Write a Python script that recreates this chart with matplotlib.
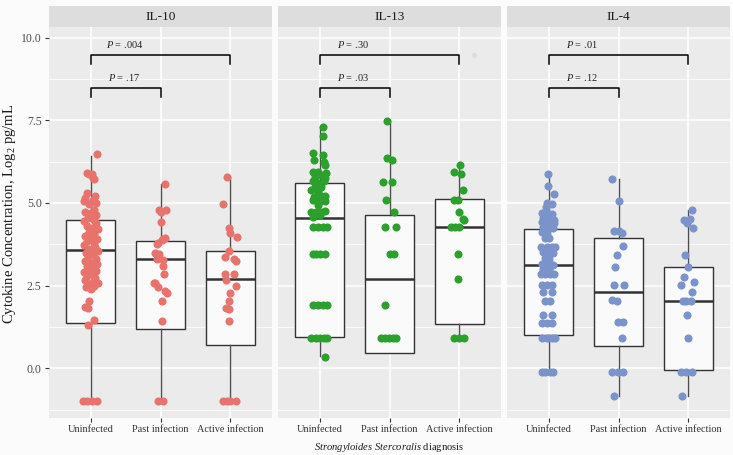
import matplotlib
matplotlib.use("Agg")
from matplotlib import pyplot as plt

# Fonts: serif text, mathtext in the same family for the subscripts / italics
plt.rcParams['font.family'] = ['Liberation Serif', 'DejaVu Serif']
plt.rcParams['mathtext.fontset'] = 'custom'
plt.rcParams['mathtext.rm'] = 'Liberation Serif'
plt.rcParams['mathtext.it'] = 'Liberation Serif:italic'

# ---- data ----
cytokines = ['IL-10', 'IL-13', 'IL-4']
groups = ['Uninfected', 'Past infection', 'Active infection']
colors = ['#E8736C', '#2CA02C', '#7B93CB']

# box statistics (Log2 pg/mL), one value per group
il10_q1 = [1.38, 1.19, 0.72]
il10_med = [3.58, 3.30, 2.69]
il10_q3 = [4.48, 3.86, 3.55]
il10_lo = [-1.0, -1.0, -1.0]
il10_hi = [6.43, 5.57, 5.78]

il13_q1 = [0.96, 0.45, 1.33]
il13_med = [4.55, 2.69, 4.26]
il13_q3 = [5.59, 4.63, 5.11]
il13_lo = [0.37, 0.45, 0.93]
il13_hi = [7.30, 7.45, 6.15]

il4_q1 = [1.01, 0.68, -0.05]
il4_med = [3.14, 2.30, 2.03]
il4_q3 = [4.20, 3.93, 3.05]
il4_lo = [-0.10, -0.84, -0.84]
il4_hi = [5.90, 5.71, 4.79]

# individual samples as (jitter, value)
il10_uninfected = [(0.09, 6.47), (-0.05, 5.9), (-0.02, 5.87), (0.02, 5.88), (0.05, 5.74), (0.03, 5.75),
                   (-0.05, 5.29), (0.06, 5.2), (-0.08, 5.15), (0.03, 5.1), (-0.1, 5.05), (0.08, 5.0), (-0.02, 4.98),
                   (0.05, 4.8), (-0.08, 4.72), (0.0, 4.69), (0.08, 4.65), (-0.04, 4.55), (0.04, 4.5), (-0.1, 4.45),
                   (0.07, 4.4), (-0.06, 4.3), (0.02, 4.25), (0.1, 4.2), (-0.03, 4.12), (0.05, 4.05), (-0.08, 4.0),
                   (0.0, 3.95), (0.09, 3.9), (-0.05, 3.85), (0.04, 3.8), (-0.1, 3.72), (0.06, 3.68), (-0.02, 3.6),
                   (0.1, 3.55), (-0.07, 3.5), (0.03, 3.45), (-0.04, 3.38), (0.07, 3.32), (-0.09, 3.25), (0.01, 3.2),
                   (0.09, 3.15), (-0.06, 3.1), (0.04, 3.05), (-0.02, 3.0), (0.08, 2.95), (-0.1, 2.9), (0.0, 2.85),
                   (-0.05, 2.78), (0.06, 2.72), (-0.08, 2.68), (0.03, 2.62), (0.1, 2.58), (-0.03, 2.55), (0.05, 2.5),
                   (-0.07, 2.45), (0.0, 2.4), (-0.02, 2.05), (-0.09, 1.85), (-0.04, 1.82), (0.05, 1.45), (-0.04, 1.3),
                   (-0.11, -1), (-0.05, -1), (0.01, -1), (0.09, -1)]
il10_past = [(0.06, 5.57), (0.08, 4.8), (-0.02, 4.78), (0.0, 4.73), (0.0, 4.43), (0.07, 3.95), (0.04, 3.9),
             (0.02, 3.88), (-0.03, 3.8), (-0.05, 3.75), (-0.08, 3.48), (-0.02, 3.45), (-0.05, 3.3), (0.04, 3.27),
             (0.03, 3.1), (0.05, 2.84), (-0.08, 2.59), (-0.09, 2.57), (-0.03, 2.47), (0.07, 2.34), (0.1, 2.27),
             (0.02, 2.03), (0.02, 1.44), (-0.03, -1), (0.03, -1)]
il10_active = [(-0.04, 5.78), (-0.1, 4.98), (-0.01, 4.23), (0.0, 4.08), (0.1, 3.96), (-0.01, 3.55), (-0.08, 3.38),
               (0.05, 3.3), (0.09, 3.25), (-0.08, 2.85), (0.05, 2.84), (-0.06, 2.67), (0.09, 2.5), (0.0, 2.27),
               (-0.01, 2.03), (-0.06, 1.84), (-0.02, 1.8), (-0.02, 1.44), (-0.1, -1), (-0.05, -1), (0.0, -1),
               (0.09, -1)]

il13_uninfected = [(0.05, 7.30), (0.04, 7.03), (-0.1, 6.5), (0.05, 6.45), (-0.08, 6.3), (0.06, 6.24), (0.07, 6.15),
                   (-0.1, 5.94), (-0.03, 5.94), (0.09, 5.92), (-0.07, 5.8), (0.02, 5.85), (0.07, 5.75),
                   (-0.1, 5.65), (-0.03, 5.6), (0.06, 5.65), (-0.07, 5.49), (0.02, 5.49), (-0.12, 5.4), (-0.02, 5.34),
                   (-0.08, 5.19), (0.02, 5.22), (0.08, 5.22), (-0.1, 5.09), (0.0, 5.06), (0.07, 5.06), (-0.02, 4.93),
                   (-0.12, 4.73), (-0.05, 4.73), (0.02, 4.73), (0.07, 4.75), (-0.1, 4.58), (0.0, 4.63),
                   (-0.1, 4.26), (-0.02, 4.26), (0.05, 4.26), (0.1, 4.26),
                   (-0.1, 3.47), (-0.05, 3.47), (0.0, 3.47), (0.07, 3.47),
                   (-0.1, 1.93), (-0.02, 1.93), (0.05, 1.93), (0.1, 1.93),
                   (-0.12, 0.93), (-0.06, 0.93), (0.0, 0.93), (0.06, 0.93), (0.1, 0.93),
                   (0.08, 0.35)]
il13_past = [(-0.04, 7.48), (-0.04, 6.36), (0.03, 6.29), (-0.09, 5.64), (0.04, 5.64), (-0.05, 5.09), (0.07, 4.73),
             (-0.06, 4.26), (0.1, 4.26), (0.0, 3.47), (0.07, 3.47), (-0.07, 1.93), (-0.12, 0.93), (-0.07, 0.93),
             (-0.01, 0.93), (0.05, 0.93), (0.1, 0.93)]
il13_active = [(0.01, 6.15), (-0.08, 5.94), (0.02, 5.87), (0.06, 5.4), (-0.07, 5.09), (-0.01, 5.09), (0.0, 4.73),
               (0.05, 4.53), (0.07, 4.5), (-0.12, 4.26), (-0.06, 4.26), (0.0, 4.26), (-0.01, 3.47), (-0.01, 2.69),
               (-0.07, 0.93), (0.0, 0.93), (0.07, 0.93)]

il4_uninfected = [(-0.01, 5.89), (-0.01, 5.51), (0.08, 5.27), (-0.02, 5.0), (0.04, 4.98), (-0.04, 4.89),
                  (-0.1, 4.69), (-0.03, 4.69), (0.04, 4.66), (-0.09, 4.54), (-0.01, 4.54), (0.07, 4.5),
                  (-0.1, 4.43), (-0.03, 4.38), (0.04, 4.4), (0.08, 4.38), (-0.08, 4.28), (0.0, 4.23), (0.06, 4.23),
                  (-0.1, 4.13), (-0.03, 4.08), (-0.05, 3.93), (0.0, 3.93),
                  (-0.11, 3.66), (-0.03, 3.66), (0.04, 3.66), (0.09, 3.66), (-0.08, 3.53), (0.0, 3.5), (0.06, 3.5),
                  (-0.06, 3.35), (0.0, 3.32), (-0.1, 3.15), (-0.03, 3.13), (0.06, 3.13), (-0.08, 3.0), (0.0, 2.98),
                  (-0.11, 2.84), (-0.05, 2.84), (0.02, 2.84), (0.08, 2.84),
                  (-0.1, 2.52), (-0.02, 2.52), (0.04, 2.52), (-0.09, 2.3), (0.05, 2.3),
                  (-0.05, 2.03), (0.02, 2.03), (-0.08, 1.61), (0.05, 1.61), (-0.1, 1.38), (-0.03, 1.38), (0.04, 1.38),
                  (-0.1, 0.91), (-0.03, 0.91), (0.04, 0.91), (0.09, 0.91),
                  (-0.1, -0.1), (-0.05, -0.1), (0.01, -0.1), (0.06, -0.1)]
il4_past = [(-0.1, 5.72), (0.0, 5.07), (-0.06, 4.16), (0.0, 4.16), (0.05, 4.1), (0.06, 3.7), (-0.02, 3.42),
            (-0.05, 3.05), (-0.07, 2.52), (0.08, 2.52), (-0.09, 2.08), (-0.02, 2.04), (-0.01, 1.39), (0.06, 1.39),
            (0.05, 0.91), (-0.09, -0.1), (-0.01, -0.1), (0.06, -0.1), (-0.07, -0.84)]
il4_active = [(0.05, 4.79), (-0.06, 4.5), (0.03, 4.53), (-0.02, 4.38), (0.07, 4.23), (-0.04, 3.42), (0.0, 3.05),
              (-0.06, 2.77), (0.08, 2.62), (-0.1, 2.52), (0.05, 2.32), (-0.08, 2.03), (-0.03, 2.03), (0.04, 2.03),
              (-0.02, 1.61), (0.0, 0.91), (-0.1, -0.1), (-0.03, -0.1), (0.06, -0.1), (-0.09, -0.84)]

# p-values: (Uninfected vs Past, Uninfected vs Active)
p_past = ['.17', '.03', '.12']
p_active = ['.004', '.30', '.01']

boxes = [
    (il10_q1, il10_med, il10_q3, il10_lo, il10_hi),
    (il13_q1, il13_med, il13_q3, il13_lo, il13_hi),
    (il4_q1, il4_med, il4_q3, il4_lo, il4_hi),
]
points = [
    [il10_uninfected, il10_past, il10_active],
    [il13_uninfected, il13_past, il13_active],
    [il4_uninfected, il4_past, il4_active],
]

# ---- figure ----
W, H = 733, 455
fig = plt.figure(figsize=(W / 100, H / 100), dpi=100, facecolor='#FBFBFB')

panel_left = [49, 278, 507]
panel_w = 223
panel_top, panel_bot = 27, 418
strip_top = 6

for i, name in enumerate(cytokines):
    l = panel_left[i] / W
    ax = fig.add_axes([l, 1 - panel_bot / H, panel_w / W, (panel_bot - panel_top) / H])
    ax.set_facecolor('#EBEBEB')

    q1, med, q3, lo, hi = boxes[i]
    stats = []
    for k in range(3):
        stats.append({'q1': q1[k], 'med': med[k], 'q3': q3[k],
                      'whislo': lo[k], 'whishi': hi[k], 'fliers': []})
    ax.bxp(stats, positions=[1, 2, 3], widths=0.7, patch_artist=True,
           showcaps=False, showfliers=False, manage_ticks=False,
           boxprops=dict(facecolor='#FAFAFA', edgecolor='#333333', lw=1.0),
           medianprops=dict(color='#333333', lw=1.8),
           whiskerprops=dict(color='#4D4D4D', lw=1.0), zorder=2)

    for k in range(3):
        xs = [k + 1 + p[0] for p in points[i][k]]
        ys = [p[1] for p in points[i][k]]
        ax.scatter(xs, ys, s=34, color=colors[i], linewidths=0, zorder=3)

    # significance brackets
    ax.plot([1, 1, 3, 3], [9.2, 9.48, 9.48, 9.2], color='black', lw=1.1, zorder=4)
    ax.plot([1, 1, 2, 2], [8.19, 8.48, 8.48, 8.19], color='black', lw=1.1, zorder=4)
    ax.text(1.48, 9.8, r'$\it{P}$ = ' + p_active[i], ha='center', va='center', fontsize=7.5, color='#222222')
    ax.text(1.48, 8.8, r'$\it{P}$ = ' + p_past[i], ha='center', va='center', fontsize=7.5, color='#222222')

    if i == 1:
        ax.scatter([3.21], [9.48], s=14, color='#DCDCDC', linewidths=0, zorder=3)

    ax.set_xlim(0.4, 3.6)
    ax.set_ylim(-1.5, 10.32)
    ax.set_yticks([0, 2.5, 5, 7.5, 10])
    ax.set_yticklabels(['0.0', '2.5', '5.0', '7.5', '10.0'])
    ax.set_yticks([-1.25, 1.25, 3.75, 6.25, 8.75], minor=True)
    ax.set_xticks([1, 2, 3])
    ax.set_xticklabels(groups)
    ax.grid(which='major', color='white', lw=1.1, zorder=0)
    ax.grid(which='minor', axis='y', color='white', lw=0.55, zorder=0)
    ax.set_axisbelow(True)
    for s in ax.spines.values():
        s.set_visible(False)
    ax.tick_params(axis='both', which='major', length=2.8, width=0.8, color='#333333',
                   labelcolor='#4D4D4D', pad=2.5)
    ax.tick_params(axis='y', labelsize=8.5)
    ax.tick_params(axis='x', labelsize=7.4, labelcolor='#333333')
    ax.tick_params(axis='y', which='minor', length=0)
    if i > 0:
        ax.tick_params(axis='y', which='both', left=False, labelleft=False)

    # facet strip
    sax = fig.add_axes([l, 1 - panel_top / H, panel_w / W, (panel_top - strip_top) / H])
    sax.set_facecolor('#DEDDDE')
    sax.set_xticks([])
    sax.set_yticks([])
    for s in sax.spines.values():
        s.set_visible(False)
    sax.text(0.5, 0.5, name, ha='center', va='center', fontsize=9.5, color='#1A1A1A',
             transform=sax.transAxes)

fig.text(0.013, 1 - 214 / H, r'Cytokine Concentration, Log$_2$ pg/mL', rotation=90,
         ha='center', va='center', fontsize=10.5, color='#1A1A1A')
fig.text(389 / W, 1 - 448 / H, r'$\it{Strongyloides\ Stercoralis}$ diagnosis',
         ha='center', va='center', fontsize=7.6, color='#1A1A1A')

fig.savefig('out.png', dpi=100, facecolor=fig.get_facecolor())
